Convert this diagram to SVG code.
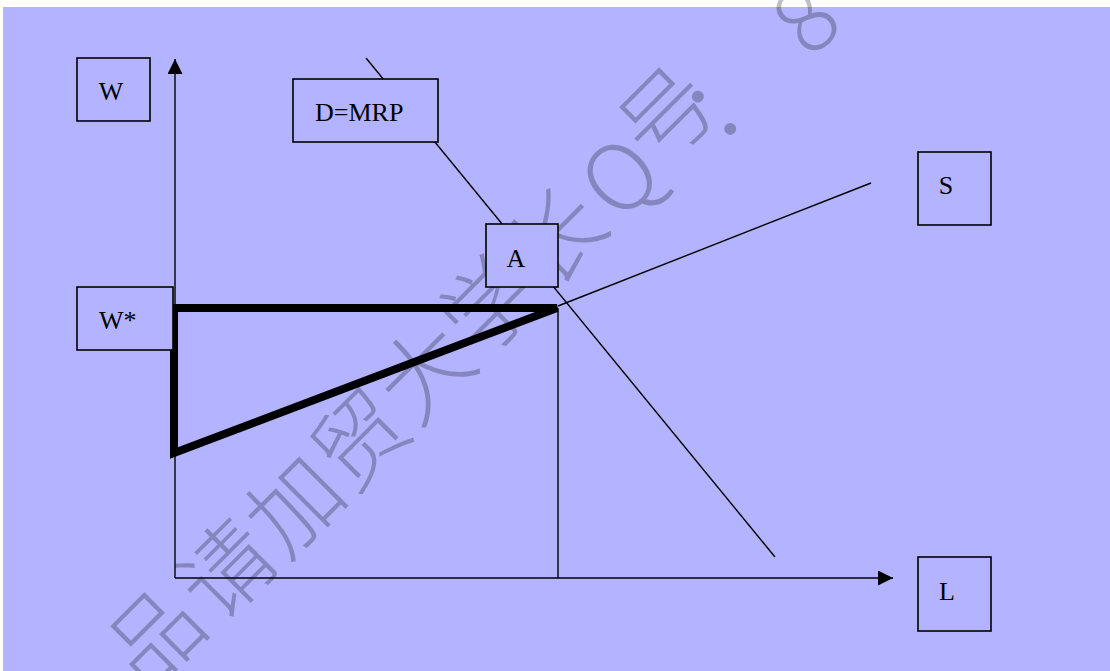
<svg xmlns="http://www.w3.org/2000/svg" width="1110" height="671" viewBox="0 0 1110 671">
  <defs>
    <style>
      .ln { stroke: #000; stroke-width: 1.4; fill: none; }
      .thick { stroke: #000; stroke-width: 8; fill: none; }
      .box { fill: #B3B3FF; stroke: #000; stroke-width: 1.6; }
      .lbl { font-family: "Liberation Serif", "Times New Roman", serif; font-size: 26px; fill: #000; }
      .wm { font-family: "Noto Sans CJK SC", "Noto Sans", sans-serif; font-size: 92px; font-weight: 300; fill: #000; fill-opacity: 0.25; text-anchor: middle; dominant-baseline: central; }
    </style>
    <marker id="arr" viewBox="0 0 10 10" refX="10" refY="5" markerWidth="15" markerHeight="15" markerUnits="userSpaceOnUse" orient="auto">
      <path d="M0,0 L10,5 L0,10 z" fill="#000"/>
    </marker>
  </defs>
  <rect x="0" y="0" width="1110" height="671" fill="#FFFFFF"/>
  <rect x="3" y="7" width="1107" height="664" fill="#B3B3FF"/>

  <g id="watermark">
    <text class="wm" transform="translate(150,632) rotate(-45)">品</text>
    <text class="wm" transform="translate(222,565) rotate(-45)">请</text>
    <text class="wm" transform="translate(290,500) rotate(-45)">加</text>
    <text class="wm" transform="translate(355,435) rotate(-45)">贸</text>
    <text class="wm" transform="translate(420,367) rotate(-45)">大</text>
    <text class="wm" transform="translate(485,300) rotate(-45)">学</text>
    <text class="wm" transform="translate(552,232) rotate(-45)">长</text>
    <text class="wm" transform="translate(615,172) rotate(-45)">Q</text>
    <text class="wm" transform="translate(662,110) rotate(-45)">号</text>
    <text class="wm" transform="translate(722,88) rotate(-45)">：</text>
    <text class="wm" transform="translate(800,14) rotate(-45)">8</text>
  </g>

  <g id="connectors">
    <line class="ln" x1="175" y1="578" x2="175" y2="59" marker-end="url(#arr)"/>
    <line class="ln" x1="175" y1="578" x2="893" y2="578" marker-end="url(#arr)"/>
    <line class="ln" x1="366" y1="58" x2="775" y2="557"/>
    <line class="ln" x1="558" y1="306" x2="871" y2="183"/>
    <line class="ln" x1="558" y1="308" x2="558" y2="578"/>
    <polygon class="thick" points="174,308 557,308 174,453"/>
  </g>

  <g id="node-W">
    <rect class="box" x="77" y="58" width="73" height="63"/>
    <text class="lbl" x="111" y="100" text-anchor="middle">W</text>
  </g>
  <g id="node-DMRP">
    <rect class="box" x="293" y="79" width="145" height="63"/>
    <text class="lbl" x="315" y="121">D=MRP</text>
  </g>
  <g id="node-A">
    <rect class="box" x="486" y="224" width="72" height="63"/>
    <text class="lbl" x="516" y="267" text-anchor="middle">A</text>
  </g>
  <g id="node-S">
    <rect class="box" x="918" y="152" width="73" height="73"/>
    <text class="lbl" x="946" y="194" text-anchor="middle">S</text>
  </g>
  <g id="node-Wstar">
    <rect class="box" x="77" y="287" width="96" height="63"/>
    <text class="lbl" x="99" y="329">W*</text>
  </g>
  <g id="node-L">
    <rect class="box" x="918" y="557" width="73" height="74"/>
    <text class="lbl" x="947" y="600" text-anchor="middle">L</text>
  </g>
</svg>
